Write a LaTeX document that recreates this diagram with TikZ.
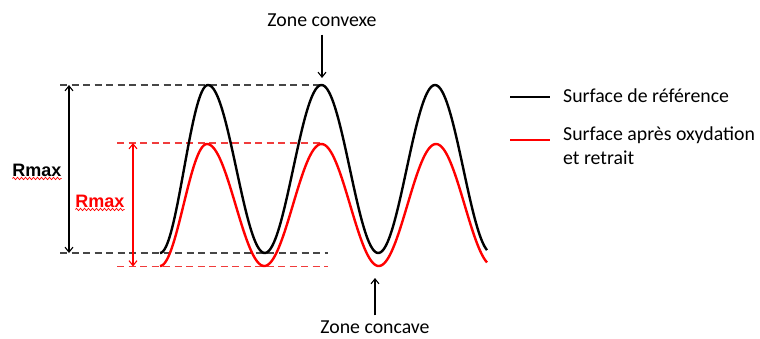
\documentclass[tikz,border=0pt]{standalone}
\usepackage{fontspec}
\setmainfont{Carlito}
\newfontfamily\arialfont{Liberation Sans}
\usetikzlibrary{arrows.meta,decorations.pathmorphing}
\definecolor{dgray}{RGB}{70,70,70}
\definecolor{lred}{RGB}{240,60,60}
\tikzset{
  curveblack/.style={line width=2.4pt, black},
  curvered/.style={line width=2.4pt, red},
  dashblack/.style={line width=1.2pt, dgray, dash pattern=on 7pt off 4.5pt},
  dashred/.style={line width=1.2pt, lred, dash pattern=on 7pt off 4.5pt},
  dimarrow/.style={line width=1.1pt, {Straight Barb[length=5pt,width=8pt]}-{Straight Barb[length=5pt,width=8pt]}},
  zonearrow/.style={line width=1.1pt, -{Straight Barb[length=5pt,width=8pt]}},
  lbl/.style={font=\fontsize{19.8}{23.4}\selectfont, inner sep=0pt},
  rlbl/.style={font=\arialfont\bfseries\fontsize{18}{21}\selectfont, inner sep=0pt},
  wavy/.style={red, line width=0.7pt, decorate, decoration={snake, amplitude=1.2pt, segment length=4pt}},
}
\begin{document}
\begin{tikzpicture}[x=1pt,y=-1pt]
\useasboundingbox (0,0) rectangle (760,338);
% dashed reference lines
\coordinate (bt1) at (60,85);  \coordinate (bt2) at (322,85);
\coordinate (bb1) at (60,253); \coordinate (bb2) at (328,253);
\coordinate (rt1) at (117,143); \coordinate (rt2) at (322,143);
\coordinate (rb1) at (117,266.5); \coordinate (rb2) at (328,266.5);
\draw[dashblack] (bt1) -- (bt2);
\draw[dashblack] (bb1) -- (bb2);
\draw[dashred] (rt1) -- (rt2);
\draw[dashred] (rb1) -- (rb2);
% curves
\draw[curvered] plot[domain=160:207, samples=40] (\x, {205 - 61*cos((\x-207)/47*180)})
  -- plot[domain=207:487, samples=200] (\x, {205 - 61*cos((\x-207)/114.5*360)});
\draw[curveblack] plot[domain=160:208, samples=40] (\x, {169 - 84*cos((\x-208)/48*180)})
  -- plot[domain=208:487, samples=200] (\x, {169 - 84*cos((\x-208)/113.5*360)});
% dimension arrows
\coordinate (ba1) at (69,85); \coordinate (ba2) at (69,253);
\coordinate (ra1) at (133,143); \coordinate (ra2) at (133,266.5);
\draw[dimarrow, black] (ba1) -- (ba2);
\draw[dimarrow, red] (ra1) -- (ra2);
\node[rlbl] (rmaxb) at (37,170) {Rmax};
\node[rlbl, red] (rmaxr) at (100,201) {Rmax};
\draw[wavy] ([yshift=-2pt]rmaxb.south west) -- ([yshift=-2pt]rmaxb.south east);
\draw[wavy] ([yshift=-2pt]rmaxr.south west) -- ([yshift=-2pt]rmaxr.south east);
% zone labels
\node[lbl] (convexe) at (322,20) {Zone convexe};
\coordinate (cvx) at (322,78);
\draw[zonearrow] ([yshift=-8pt]convexe.south) -- (cvx);
\node[lbl] (concave) at (375,327) {Zone concave};
\coordinate (ccv) at (375,278);
\draw[zonearrow] ([yshift=5pt]concave.north) -- (ccv);
% legend
\coordinate (l1a) at (510,97); \coordinate (l1b) at (550,97);
\coordinate (l2a) at (510,140); \coordinate (l2b) at (550,140);
\draw[line width=2.4pt, black] (l1a) -- (l1b);
\draw[line width=2.4pt, red] (l2a) -- (l2b);
\node[lbl, anchor=west] (leg1) at (563,96) {Surface de référence};
\node[lbl, anchor=north west, align=left] (leg2) at (563,127) {Surface après oxydation\\et retrait};
\end{tikzpicture}
\end{document}
